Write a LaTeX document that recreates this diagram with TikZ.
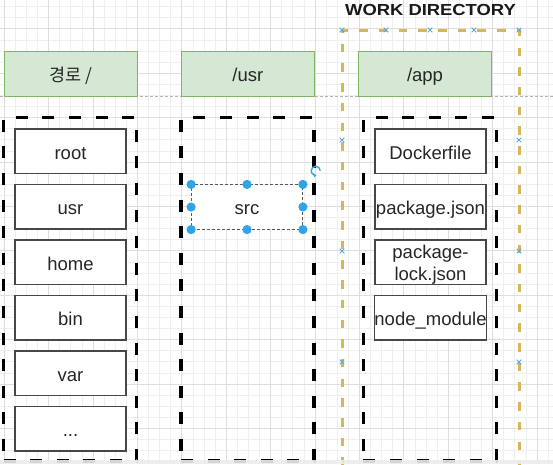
\documentclass[tikz,border=0pt]{standalone}
\usepackage{fontspec}
\setmainfont{Liberation Sans}
\newfontfamily\krfont{Noto Sans CJK KR}
\newfontfamily\titlefont{Liberation Sans}[FakeStretch=1.15]
\usetikzlibrary{arrows.meta}
\definecolor{gridminor}{HTML}{EFEFEF}
\definecolor{gridmajor}{HTML}{DEDEDE}
\definecolor{greenfill}{HTML}{D5E8D4}
\definecolor{greenline}{HTML}{82B366}
\definecolor{gold}{HTML}{D6B656}
\definecolor{selblue}{HTML}{2FA4E7}
\definecolor{xblue}{HTML}{5AA9E6}
\definecolor{txt}{HTML}{262626}
\tikzset{
  headbox/.style={draw=greenline, fill=greenfill, line width=1.1pt,
    minimum width=133pt, minimum height=44.4pt, inner sep=0pt,
    text=txt, font=\fontsize{18.5}{21}\selectfont, text height=16pt, text depth=0.4pt},
  container/.style={draw=black, line width=3.6pt, dash pattern=on 12pt off 14.6pt,
    minimum width=133pt, minimum height=343.5pt, inner sep=0pt},
  filebox/.style={draw=txt!85, fill=white, line width=1.2pt,
    minimum width=111pt, minimum height=44.4pt, inner sep=0pt,
    text=txt, font=\fontsize{18.5}{21}\selectfont, text height=16pt, text depth=0.4pt},
  linetext/.style={anchor=base, inner sep=0pt, text=txt, font=\fontsize{18.5}{22}\selectfont},
  selbox/.style={filebox, draw=black!65, line width=0.8pt, dash pattern=on 3pt off 2pt},
  workdir/.style={draw=gold, line width=3pt, dash pattern=on 8.5pt off 11.2pt,
    minimum width=177pt, minimum height=440pt, inner sep=0pt},
  handle/.style={fill=selblue},
  xmark/.style={draw=xblue, line width=0.8pt},
  guide/.style={draw=black!30, line width=0.7pt, dash pattern=on 2.5pt off 2.5pt},
}
\begin{document}
\begin{tikzpicture}[x=1pt,y=-1pt]
\useasboundingbox (0,0) rectangle (553,464);
\fill[white] (0,0) rectangle (553,464);
% grid
\foreach \i in {0,...,49} {
  \pgfmathsetmacro\xx{4.1+11.1*\i}
  \draw[gridminor, line width=0.6pt] (\xx,0) -- (\xx,464);
}
\foreach \j in {0,...,41} {
  \pgfmathsetmacro\yy{6.5+11.1*\j}
  \draw[gridminor, line width=0.6pt] (0,\yy) -- (553,\yy);
}
\foreach \i in {0,...,12} {
  \pgfmathsetmacro\xx{4.1+44.4*\i}
  \draw[gridmajor, line width=0.8pt] (\xx,0) -- (\xx,464);
}
\foreach \j in {0,...,10} {
  \pgfmathsetmacro\yy{28.7+44.4*\j}
  \draw[gridmajor, line width=0.8pt] (0,\yy) -- (553,\yy);
}
% guide line
\coordinate (gl) at (0,96);
\coordinate (gr) at (553,96);
\draw[guide] (gl) -- (gr);

% title
\node[anchor=base, font=\titlefont\bfseries\fontsize{16}{19}\selectfont, text=black!90, inner sep=0pt]
  (title) at (430.5,15.7) {WORK DIRECTORY};

% work directory frame
\node[workdir] (wd) at (430.5,250) {};

% header boxes
\node[headbox] (h1) at (70.6,74) {\krfont\fontsize{17.5}{21}\selectfont 경로 /};
\node[headbox] (h2) at (247.8,74) {/usr};
\node[headbox] (h3) at (425,74) {/app};

% containers
\node[container] (c1) at (70,289.25) {};
\node[container] (c2) at (247.5,289.25) {};
\node[container] (c3) at (429.8,289.25) {};

% left column
\node[filebox] (root) at (70.5,151.2) {root};
\node[filebox] (usr)  at (70.5,206.7) {usr};
\node[filebox] (home) at (70.5,262.2) {home};
\node[filebox] (bin)  at (70.5,317.7) {bin};
\node[filebox] (var)  at (70.5,373.2) {var};
\node[filebox] (dots) at (70.5,428.7) {...};

% middle column
\node[selbox] (src) at (247,207) {src};
\foreach \a in {north west,north,north east,west,east,south west,south,south east}
  \fill[handle] (src.\a) circle (4.6pt);
\coordinate (rot) at (315.7,170.7);
\draw[selblue, line width=1.4pt, -{Stealth[length=3pt,width=4pt]}]
  (rot) ++(4.5,0) arc[start angle=0, end angle=280, radius=4.5pt];

% right column
\node[filebox] (docker) at (430.5,151.2) {Dockerfile};
\node[filebox] (pkg)    at (430.5,206.7) {package.json};
\node[filebox]  (lock)  at (430.5,262.2) {};
\node[linetext] (lock1) at (430.5,258) {package-};
\node[linetext] (lock2) at (430.5,280) {lock.json};
\node[filebox] (node)   at (430.5,317.7) {node\_module};

% blue x marks on the work directory frame
\foreach \x/\y in {342/30, 386/30, 430/30, 474/30, 519/30,
                   342/140, 342/251, 342/362, 519/140, 519/251, 519/362} {
  \draw[xmark] (\x-2.3,\y-2.3) -- (\x+2.3,\y+2.3) (\x-2.3,\y+2.3) -- (\x+2.3,\y-2.3);
}

% bottom band
\fill[black!7, opacity=0.9] (0,459.8) rectangle (553,464);
\end{tikzpicture}
\end{document}
